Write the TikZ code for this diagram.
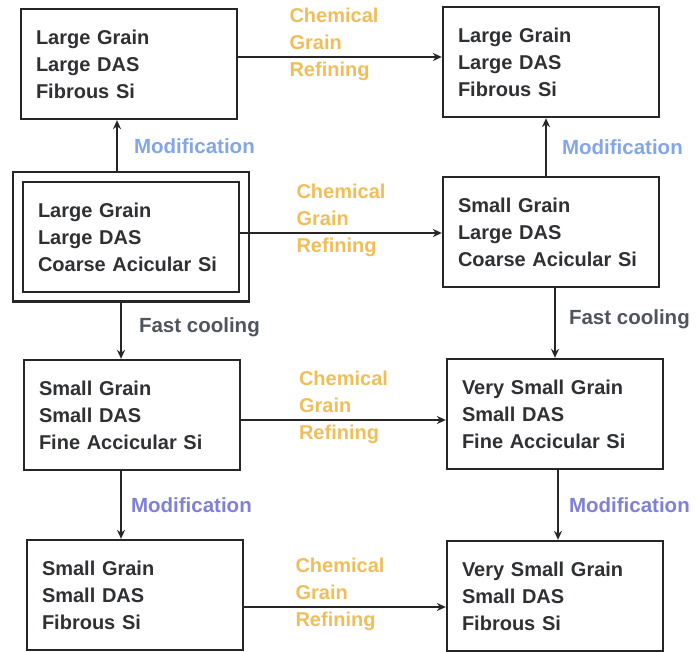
\documentclass[tikz,border=0pt]{standalone}
\usepackage{fontspec}
\setmainfont{Liberation Sans}
\usetikzlibrary{arrows.meta,fit}

\definecolor{boxtext}{HTML}{2F3033}
\definecolor{chemorange}{HTML}{F0BE58}
\definecolor{modblue}{HTML}{84A6E6}
\definecolor{modviolet}{HTML}{7F80D6}
\definecolor{coolgray}{HTML}{50545C}

\tikzset{
  stage/.style={draw=black!85, line width=2.3pt, minimum width=216pt, minimum height=110pt,
    text width=186pt, inner xsep=15pt, align=left, text=boxtext,
    font=\bfseries\fontsize{20}{27}\selectfont},
  flow/.style={draw=black!85, line width=2.1pt, -{Stealth[length=9pt,width=8pt]}},
  chem/.style={text=chemorange, align=left, inner sep=0pt, yshift=13pt,
    font=\bfseries\fontsize{20}{27}\selectfont},
  steplbl/.style={inner sep=0pt, font=\bfseries\fontsize{20.5}{24}\selectfont}
}

\begin{document}
\begin{tikzpicture}[x=1pt,y=-1pt]
  \useasboundingbox (0,0) rectangle (696,652);

  % Boxes, left column
  \node[stage] (tl) at (129,64) {Large Grain\\Large DAS\\Fibrous Si};
  \node[stage] (ml) at (131,237) {Large Grain\\Large DAS\\Coarse Acicular Si};
  \node[fit=(ml), draw=black!85, line width=2.3pt, inner xsep=9pt, inner ysep=8.5pt] (mlframe) {};
  \node[stage] (l3) at (132,415) {Small Grain\\Small DAS\\Fine Accicular Si};
  \node[stage] (l4) at (135,595) {Small Grain\\Small DAS\\Fibrous Si};

  % Boxes, right column
  \node[stage] (tr) at (551,62) {Large Grain\\Large DAS\\Fibrous Si};
  \node[stage] (mr) at (551,232) {Small Grain\\Large DAS\\Coarse Acicular Si};
  \node[stage] (r3) at (555,414) {Very Small Grain\\Small DAS\\Fine Accicular Si};
  \node[stage] (r4) at (555,596) {Very Small Grain\\Small DAS\\Fibrous Si};

  % Chemical grain refining, left to right
  \draw[flow] ([yshift=7pt]tl.east) -- ([yshift=7pt]tl.east -| tr.west)
    node[chem, midway, xshift=-6pt] {Chemical\\Grain\\Refining};
  \draw[flow] ([yshift=4pt]ml.east) -- ([yshift=4pt]ml.east -| mr.west)
    node[chem, midway] {Chemical\\Grain\\Refining};
  \draw[flow] ([yshift=-5pt]l3.east) -- ([yshift=-5pt]l3.east -| r3.west)
    node[chem, midway] {Chemical\\Grain\\Refining};
  \draw[flow] ([yshift=-12pt]l4.east) -- ([yshift=-12pt]l4.east -| r4.west)
    node[chem, midway, xshift=-5pt] {Chemical\\Grain\\Refining};

  % Modification and cooling, up and down
  \draw[flow] ([xshift=-12pt]tl.south |- mlframe.north) -- ([xshift=-12pt]tl.south)
    node[steplbl, text=modblue, midway, right=16pt] {Modification};
  \draw[flow] ([xshift=-5pt]tr.south |- mr.north) -- ([xshift=-5pt]tr.south)
    node[steplbl, text=modblue, midway, right=15pt] {Modification};
  \draw[flow] ([xshift=-11pt]l3.north |- mlframe.south) -- ([xshift=-11pt]l3.north)
    node[steplbl, text=coolgray, midway, right=17pt, yshift=4pt] {Fast cooling};
  \draw[flow] (r3.north |- mr.south) -- (r3.north)
    node[steplbl, text=coolgray, midway, right=13pt, yshift=4pt] {Fast cooling};
  \draw[flow] ([xshift=-11pt]l3.south) -- ([xshift=-11pt]l3.south |- l4.north)
    node[steplbl, text=modviolet, midway, right=9pt] {Modification};
  \draw[flow] ([xshift=3pt]r3.south) -- ([xshift=3pt]r3.south |- r4.north)
    node[steplbl, text=modviolet, midway, right=10pt] {Modification};
\end{tikzpicture}
\end{document}
